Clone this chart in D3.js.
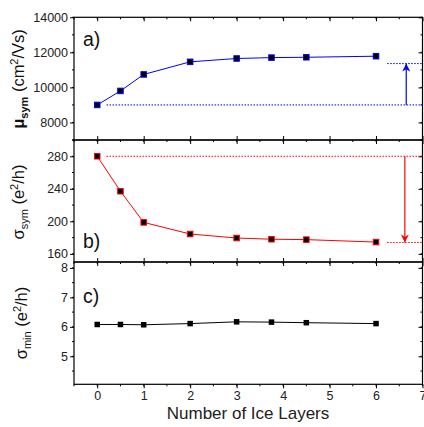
<!DOCTYPE html>
<html><head><meta charset="utf-8">
<script src="https://cdn.jsdelivr.net/npm/d3@7"></script>
<style>body{margin:0;background:#fff}svg{display:block}text{font-family:"Liberation Sans",Arial,sans-serif}</style>
</head><body>
<svg id="c" width="424" height="427"></svg>
<script>
const layers = [0, 0.5, 1, 2, 3, 3.75, 4.5, 6];
const mobility = [9000, 9800, 10740, 11460, 11650, 11700, 11720, 11780];
const sigmaSym = [280, 237, 198.7, 184.4, 179.5, 178, 177.5, 174.5];
const sigmaMin = [6.08, 6.08, 6.07, 6.11, 6.17, 6.16, 6.14, 6.11];
const xTicks = [0, 1, 2, 3, 4, 5, 6, 7];
const mobTicks = [8000, 10000, 12000, 14000];
const symTicks = [160, 200, 240, 280];
const minTicks = [5, 6, 7, 8];
// reference levels & arrows
const mobRef = {low: 9000, high: 11360, arrowX: 6.65, startX: 0.2, hiStartX: 6.24};
const symRef = {high: 280, low: 174, arrowX: 6.62, startX: 0.2, loStartX: 6.24};

const svg = d3.select("#c");
const L = 74, R = 422.5;
const x = d3.scaleLinear().domain([-0.5, 7]).range([L, R]);
const panels = [
  {top: 17.3, bot: 140, domain: [7000, 14000], ticks: mobTicks, minor: d3.range(7000, 14001, 1000), vals: mobility, color: "#0000ff", label: "a)", labY: 46},
  {top: 140, bot: 262, domain: [150, 300], ticks: symTicks, minor: d3.range(160, 301, 20), vals: sigmaSym, color: "#ff0000", label: "b)", labY: 248},
  {top: 262, bot: 384.3, domain: [4.05, 8.2], ticks: minTicks, minor: d3.range(4.5, 8.2, 0.5), vals: sigmaMin, color: "#000000", label: "c)", labY: 303}
];
const xMinor = d3.range(-0.5, 7.01, 0.5);

panels.forEach((p, i) => {
  const y = d3.scaleLinear().domain(p.domain).range([p.bot, p.top]);
  p.y = y;
  const g = svg.append("g");
  g.append("rect").attr("x", L).attr("y", p.top).attr("width", R - L).attr("height", p.bot - p.top)
    .attr("fill", "none").attr("stroke", "#000").attr("stroke-width", 1.2);
  const left = d3.axisLeft(y).tickValues(p.ticks).tickSize(4).tickPadding(2).tickFormat(d3.format("d"));
  const la = g.append("g").attr("transform", `translate(${L},0)`).call(left);
  la.select(".domain").remove();
  la.selectAll("text").attr("font-size", 12.5).attr("fill", "#222");
  la.selectAll("line").attr("stroke", "#000");
  g.append("g").selectAll("line").data(p.minor).join("line")
    .attr("x1", L - 2).attr("x2", L).attr("y1", d => y(d)).attr("y2", d => y(d)).attr("stroke", "#000");
  const right = d3.axisLeft(y).tickValues(p.ticks).tickSize(4).tickFormat("");
  const ra = g.append("g").attr("transform", `translate(${R},0)`).call(right);
  ra.select(".domain").remove();
  g.append("g").selectAll("line").data(p.minor).join("line")
    .attr("x1", R - 2).attr("x2", R).attr("y1", d => y(d)).attr("y2", d => y(d)).attr("stroke", "#000");
  const ta = g.append("g").attr("transform", `translate(0,${p.top})`)
    .call(d3.axisBottom(x).tickValues(xTicks).tickSize(4).tickFormat(""));
  ta.select(".domain").remove();
  g.append("g").selectAll("line").data(xMinor).join("line")
    .attr("x1", d => x(d)).attr("x2", d => x(d)).attr("y1", p.top).attr("y2", p.top + 2).attr("stroke", "#000");
  if (i < 2) {
    const ba = g.append("g").attr("transform", `translate(0,${p.bot})`)
      .call(d3.axisTop(x).tickValues(xTicks).tickSize(4).tickFormat(""));
    ba.select(".domain").remove();
  }
  g.append("text").attr("x", 83).attr("y", p.labY).attr("font-size", 19.5).attr("fill", "#111").text(p.label);
});

const xa = svg.append("g").attr("transform", `translate(0,${panels[2].bot})`)
  .call(d3.axisBottom(x).tickValues(xTicks).tickSize(4).tickPadding(3).tickFormat(d3.format("d")));
xa.select(".domain").remove();
xa.selectAll("text").attr("font-size", 12.5).attr("fill", "#222");
svg.append("g").selectAll("line").data(xMinor).join("line")
  .attr("x1", d => x(d)).attr("x2", d => x(d)).attr("y1", panels[2].bot).attr("y2", panels[2].bot + 2).attr("stroke", "#000");

const defs = svg.append("defs");
function arrowHead(id, color) {
  defs.append("marker").attr("id", id).attr("viewBox", "0 0 10 10").attr("refX", 10).attr("refY", 5)
    .attr("markerWidth", 8).attr("markerHeight", 8).attr("markerUnits", "userSpaceOnUse").attr("orient", "auto")
    .append("path").attr("d", "M0,0 L10,5 L0,10 L3,5 Z").attr("fill", color);
}
arrowHead("ab", "#0000ff");
arrowHead("ar", "#ff0000");

const pa = panels[0], pb = panels[1];
function dotted(x1, x2, yv, color) {
  svg.append("line").attr("x1", x1).attr("x2", x2).attr("y1", yv).attr("y2", yv)
    .attr("stroke", color).attr("stroke-width", 1).attr("stroke-dasharray", "1.5,1.5");
}
dotted(x(mobRef.startX), R, pa.y(mobRef.low), "#0000ff");
dotted(x(mobRef.hiStartX), R, pa.y(mobRef.high), "#0000ff");
svg.append("line").attr("x1", x(mobRef.arrowX)).attr("x2", x(mobRef.arrowX))
  .attr("y1", pa.y(mobRef.low)).attr("y2", pa.y(mobRef.high))
  .attr("stroke", "#0000ff").attr("stroke-width", 1.2).attr("marker-end", "url(#ab)");
dotted(x(symRef.startX), R, pb.y(symRef.high), "#ff0000");
dotted(x(symRef.loStartX), R, pb.y(symRef.low), "#ff0000");
svg.append("line").attr("x1", x(symRef.arrowX)).attr("x2", x(symRef.arrowX))
  .attr("y1", pb.y(symRef.high)).attr("y2", pb.y(symRef.low))
  .attr("stroke", "#ff0000").attr("stroke-width", 1.2).attr("marker-end", "url(#ar)");

panels.forEach(p => {
  const pts = layers.map((l, i) => [x(l), p.y(p.vals[i])]);
  svg.append("path").attr("d", d3.line()(pts)).attr("fill", "none").attr("stroke", p.color).attr("stroke-width", 1);
  svg.append("g").selectAll("rect").data(pts).join("rect")
    .attr("x", d => d[0] - 2.75).attr("y", d => d[1] - 2.75).attr("width", 5.5).attr("height", 5.5)
    .attr("fill", "#000").attr("stroke", p.color === "#000000" ? "none" : p.color).attr("stroke-width", 1);
});

function ytitle(cx, cy, parts) {
  const t = svg.append("text").attr("transform", `translate(${cx},${cy}) rotate(-90)`).attr("text-anchor", "middle").attr("font-size", 16.5).attr("fill", "#111");
  parts.forEach(pt => {
    const ts = t.append("tspan").text(pt.t);
    if (pt.bold) ts.attr("font-weight", "bold");
    if (pt.sub) ts.attr("font-size", 11).attr("dy", 4);
    if (pt.sup) ts.attr("font-size", 11).attr("dy", -6);
    if (pt.dy) ts.attr("dy", pt.dy);
  });
}
ytitle(24, 79, [{t: "μ", bold: true}, {t: "sym", bold: true, sub: true}, {t: " (cm", dy: -4}, {t: "2", sup: true}, {t: "/Vs)", dy: 6}]);
ytitle(24, 202, [{t: "σ"}, {t: "sym", sub: true}, {t: " (e", dy: -4}, {t: "2", sup: true}, {t: "/h)", dy: 6}]);
ytitle(27, 323, [{t: "σ"}, {t: "min", sub: true}, {t: " (e", dy: -4}, {t: "2", sup: true}, {t: "/h)", dy: 6}]);

svg.append("text").attr("x", 248).attr("y", 419).attr("text-anchor", "middle").attr("font-size", 17).attr("fill", "#222").text("Number of Ice Layers");
</script>
</body></html>
